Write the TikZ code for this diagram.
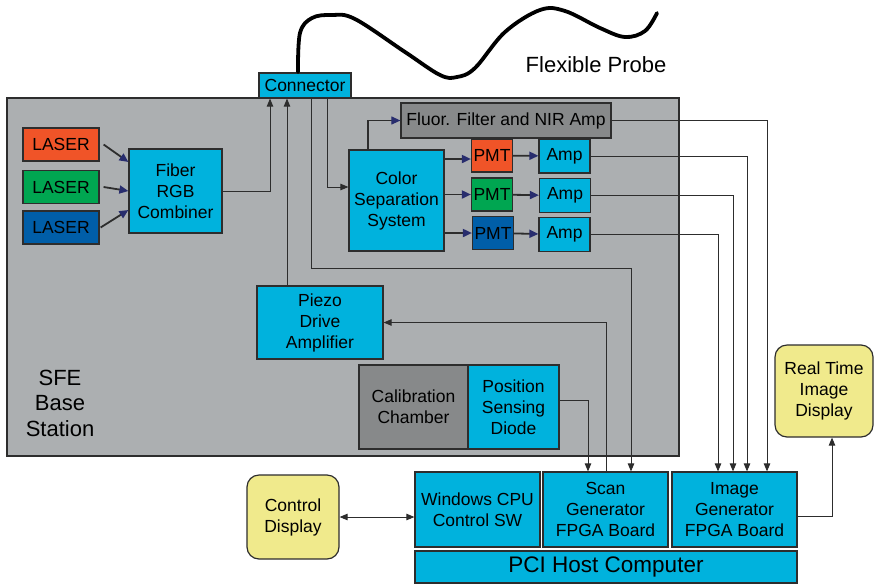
\documentclass[tikz,border=0pt]{standalone}
\usepackage{fontspec}
\setmainfont{Liberation Sans}
\usetikzlibrary{arrows.meta}

\definecolor{boxcyan}{RGB}{0,178,221}
\definecolor{basegray}{RGB}{172,175,177}
\definecolor{darkgray}{RGB}{135,137,138}
\definecolor{paleyellow}{RGB}{240,234,140}
\definecolor{laserred}{RGB}{240,84,40}
\definecolor{lasergreen}{RGB}{0,166,81}
\definecolor{laserblue}{RGB}{0,94,168}
\definecolor{edge}{RGB}{45,45,45}
\definecolor{navy}{RGB}{40,45,110}

\newcommand{\boxfont}{\fontsize{17.5}{21}\selectfont}

\tikzset{
  box/.style={draw=edge, line width=1.2pt, fill=boxcyan, align=center,
    inner sep=1pt, font=\boxfont},
  graybox/.style={box, fill=darkgray},
  laserbox/.style={box, minimum width=76, minimum height=33},
  pmtbox/.style={box, minimum width=41, minimum height=33},
  ampbox/.style={box, minimum width=51, minimum height=34},
  boardbox/.style={box, minimum width=125, minimum height=75},
  displaybox/.style={box, fill=paleyellow, rounded corners=12pt},
  link/.style={draw=edge, line width=0.9pt, -{Triangle[length=8pt,width=6.5pt]}},
  beam/.style={draw=edge, line width=1.8pt,
    -{Triangle[length=9pt,width=8pt,color=navy,fill=navy]}},
  thinbeam/.style={beam, line width=1.1pt},
  probe/.style={draw=black, line width=3.8pt, line cap=round}
}

\begin{document}
\begin{tikzpicture}[x=1pt,y=-1pt]
    \useasboundingbox (0,0) rectangle (874,584);

    % Base station
    \node[draw=edge, line width=1.2pt, fill=basegray, minimum width=672,
      minimum height=358, inner sep=0] (station) at (343,277) {};
    \node[align=center, font=\fontsize{22}{25.5}\selectfont] (sfe) at (60,403)
      {SFE\\Base\\Station};

    % Probe and connector
    \node[box, minimum width=92, minimum height=25] (conn) at (305,85.5) {Connector};
    \draw[probe] plot[smooth, tension=0.6] coordinates {(298,72) (300,33) (312,18)
      (332,15) (355,19) (405,52) (440,75) (457,77) (475,68) (505,32) (540,10)
      (565,11) (600,28) (625,37) (645,31) (657,13)};
    \node[font=\fontsize{22}{25}\selectfont] (probelabel) at (596,65) {Flexible Probe};

    % Lasers and combiner
    \node[laserbox, fill=laserred]   (laserR) at (61,144.5) {LASER};
    \node[laserbox, fill=lasergreen] (laserG) at (61,187)   {LASER};
    \node[laserbox, fill=laserblue]  (laserB) at (61,227.5) {LASER};
    \node[box, minimum width=93, minimum height=84] (comb) at (175.5,191)
      {Fiber\\RGB\\Combiner};

    % Detection chain
    \node[box, minimum width=95, minimum height=101] (csep) at (396.5,200.5)
      {Color\\Separation\\System};
    \node[graybox, minimum width=210, minimum height=35] (fluor) at (506,120.5)
      {Fluor. Filter and NIR Amp};
    \node[pmtbox, fill=laserred]   (pmtR) at (492,155.5) {PMT};
    \node[pmtbox, fill=lasergreen] (pmtG) at (492,194.5) {PMT};
    \node[pmtbox, fill=laserblue]  (pmtB) at (493,233)   {PMT};
    \node[ampbox] (ampR) at (564.5,156)   {Amp};
    \node[ampbox] (ampG) at (565,195.5)   {Amp};
    \node[ampbox] (ampB) at (564.5,234.5) {Amp};

    % Scanner drive and calibration
    \node[box, minimum width=126, minimum height=73] (piezo) at (320,322.5)
      {Piezo\\Drive\\Amplifier};
    \node[graybox, minimum width=109, minimum height=84] (calib) at (413.5,407)
      {Calibration\\Chamber};
    \node[box, minimum width=91, minimum height=84] (psd) at (513.5,407)
      {Position\\Sensing\\Diode};

    % Host computer
    \node[boardbox] (win)  at (477.5,509.5) {Windows CPU\\Control SW};
    \node[boardbox] (scan) at (605.5,509.5) {Scan\\Generator\\FPGA Board};
    \node[boardbox] (img)  at (734.5,509.5) {Image\\Generator\\FPGA Board};
    \node[box, minimum width=382, minimum height=32,
      font=\fontsize{22.5}{26}\selectfont] (pci) at (606,567) {PCI Host Computer};

    % Displays
    \node[displaybox, minimum width=92, minimum height=84] (ctrl) at (293,517)
      {Control\\Display};
    \node[displaybox, minimum width=98, minimum height=92] (rtid) at (824,391)
      {Real Time\\Image\\Display};

    % Laser beams
    \draw[beam] ([xshift=4]laserR.east) -- ([yshift=29]comb.west);
    \draw[beam] ([xshift=4]laserG.east) -- (comb.west);
    \draw[beam] ([xshift=1]laserB.east) -- ([yshift=-19]comb.west);
    \draw[thinbeam] ([xshift=-28.5]csep.north) |- (fluor.west);
    \draw[beam] ([yshift=-3.5]csep.east |- pmtR) -- ([yshift=-3.5]pmtR.west);
    \draw[beam] (csep.east |- pmtG) -- (pmtG);
    \draw[beam] (csep.east |- pmtB) -- (pmtB);
    \foreach \c in {R,G,B} {
        \draw[beam] (pmt\c) -- (amp\c);
    }

    % Signal lines
    \draw[link] (comb.east) -| ([xshift=-35]conn.south);
    \draw[link] ([xshift=-18]conn.south |- piezo.north) -- ([xshift=-18]conn.south);
    \draw[link] ([xshift=6]conn.south) -- ++(0,170) -| ([xshift=25.5]scan.north);
    \draw[link] ([xshift=22]conn.south) |- ([yshift=13.5]csep.west);
    \draw[link] (fluor.east) -| ([xshift=32.5]img.north);
    \draw[link] (ampR.east) -| ([xshift=12.5]img.north);
    \draw[link] (ampG.east) -| ([xshift=-1.5]img.north);
    \draw[link] (ampB.east) -| ([xshift=-16.5]img.north);
    \draw[link] ([yshift=7]psd.east) -| ([xshift=-17.5]scan.north);
    \draw[link] ([xshift=0.5]scan.north) |- (piezo.east);
    \draw[link, {Triangle[length=8pt,width=6.5pt]}-{Triangle[length=8pt,width=6.5pt]}]
      (ctrl.east) -- (win.west |- ctrl.east);
    \draw[link] ([yshift=-6.5]img.east) -| ([xshift=8]rtid.south);

\end{tikzpicture}
\end{document}
